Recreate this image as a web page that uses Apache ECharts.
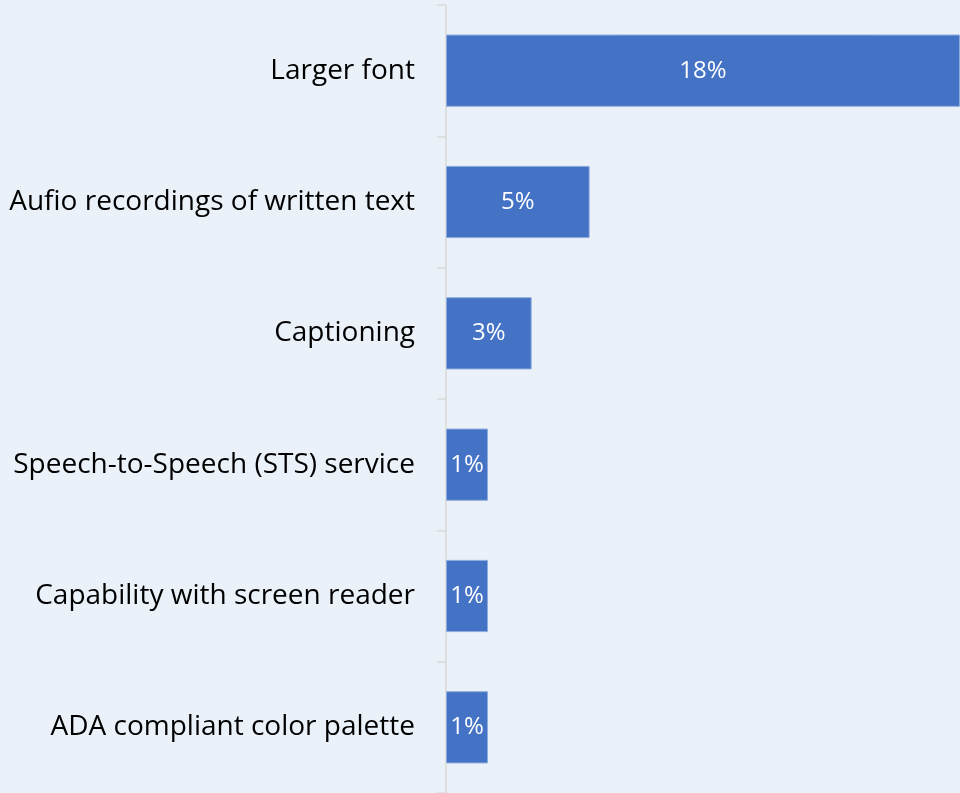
<!DOCTYPE html>
<html>
<head>
<meta charset="utf-8">
<script src="https://cdn.jsdelivr.net/npm/echarts@6/dist/echarts.min.js"></script>
<style>
    html, body { margin: 0; padding: 0; background: #eaf1f9; }
    #chart { width: 960px; height: 793px; }
</style>
</head>
<body>
<div id="chart"></div>
<script>
    // categories top to bottom
    var categories = [
        'Larger font',
        'Aufio recordings of written text',
        'Captioning',
        'Speech-to-Speech (STS) service',
        'Capability with screen reader',
        'ADA compliant color palette'
    ];
    // share of respondents, percent (labels shown rounded)
    var values = [18, 5.03, 3.0, 1.47, 1.47, 1.47];

    var chart = echarts.init(document.getElementById('chart'));
    var option = {
        backgroundColor: '#eaf1f9',
        animation: false,
        grid: { left: 446, right: 0, top: 5, bottom: 0, containLabel: false },
        xAxis: {
            type: 'value',
            min: 0,
            max: 18,
            show: false
        },
        yAxis: {
            type: 'category',
            inverse: true,
            data: categories,
            axisLine: { show: true, lineStyle: { color: '#d9d9d9', width: 1.5 } },
            axisTick: { show: true, length: 9, lineStyle: { color: '#d9d9d9', width: 1.5 } },
            axisLabel: {
                color: '#000000',
                fontFamily: 'Open Sans',
                fontSize: 28,
                margin: 31
            },
            splitLine: { show: false }
        },
        series: [{
            type: 'bar',
            data: values,
            barCategoryGap: '45%',
            itemStyle: { color: '#4472c4', borderColor: '#8faadc', borderWidth: 1 },
            label: {
                show: true,
                position: 'inside',
                color: '#ffffff',
                fontFamily: 'Open Sans',
                fontSize: 24,
                formatter: function (p) { return Math.round(p.value) + '%'; }
            }
        }]
    };
    chart.setOption(option);
    window.addEventListener('resize', function () {
        chart.resize();
    });
</script>
</body>
</html>
